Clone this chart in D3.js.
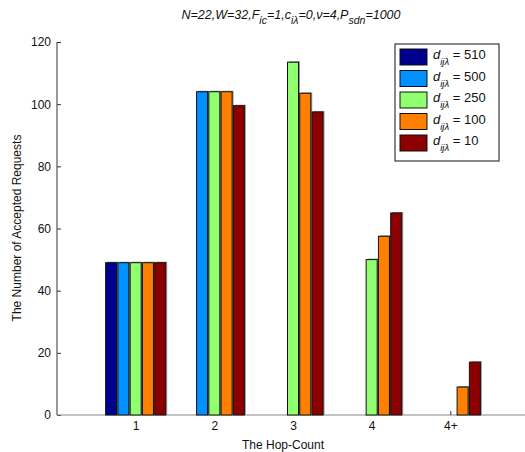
<!DOCTYPE html>
<html>
<head>
<meta charset="utf-8">
<script src="https://cdn.jsdelivr.net/npm/d3@7"></script>
<style>
  body { margin: 0; background: #fff; }
  svg { font-family: "Liberation Sans", Arial, sans-serif; }
</style>
</head>
<body>
<svg width="525" height="452"></svg>
<script>
const categories = ['1', '2', '3', '4', '4+']
const seriesNames = ['510', '500', '250', '100', '10']
const colors = ['#00008f', '#0090ff', '#90ff70', '#ff8000', '#8c0000']
const d510 = [49, 0, 0, 0, 0]
const d500 = [49, 104, 0, 0, 0]
const d250 = [49, 104, 113.5, 50, 0]
const d100 = [49, 104, 103.5, 57.5, 9]
const d10  = [49, 99.5, 97.5, 65, 17]
const yTicks = [0, 20, 40, 60, 80, 100, 120]

const series = [d510, d500, d250, d100, d10]

const svg = d3.select('svg')
const xScale = d3.scaleLinear().domain([0, 6]).range([57, 529])
const yScale = d3.scaleLinear().domain([0, 120]).range([415, 42])
const step = 0.156
const barW = xScale(0.14) - xScale(0)

// axes first, bars sit on top
const yAxis = svg.append('g')
  .attr('transform', `translate(${xScale(0)},0)`)
  .call(d3.axisLeft(yScale).tickValues(yTicks).tickSize(-4).tickPadding(6).tickFormat(d3.format('d')))
const xAxis = svg.append('g')
  .attr('transform', `translate(0,${yScale(0)})`)
  .call(d3.axisBottom(xScale).tickValues([1, 2, 3, 4, 5]).tickSize(-4).tickPadding(6)
    .tickFormat((d, i) => categories[i]))
;[yAxis, xAxis].forEach(a => {
  a.selectAll('path').attr('stroke', '#555').attr('stroke-width', 1.2)
  a.selectAll('line').attr('stroke', '#333')
  a.selectAll('text').attr('font-size', 12).attr('fill', '#111')
    .attr('font-family', '"Liberation Sans", Arial, sans-serif')
})
xAxis.select('path').attr('d', `M${xScale(0)},0H${xScale(6)}`).attr('stroke', '#888')
yAxis.select('path').attr('d', `M0,${yScale(120)}V${yScale(0)}`)

// bars
series.forEach((vals, s) => {
  const g = svg.append('g')
  const data = vals.map((v, i) => ({ x: i + 1 + (s - 2) * step, v }))
  g.selectAll('.shadow')
    .data(data.filter(d => d.v > 0))
    .enter().append('rect')
    .attr('x', d => xScale(d.x) - barW / 2 + 1.5)
    .attr('y', d => yScale(d.v) - 1)
    .attr('width', barW)
    .attr('height', d => yScale(0) - yScale(d.v) + 1)
    .attr('fill', '#9a9a9a')
  g.selectAll('.bar')
    .data(data)
    .enter().append('rect')
    .attr('x', d => xScale(d.x) - barW / 2)
    .attr('y', d => yScale(d.v))
    .attr('width', barW)
    .attr('height', d => yScale(0) - yScale(d.v))
    .attr('fill', colors[s])
    .attr('stroke', '#111')
    .attr('stroke-width', 1)
})

// axis labels
svg.append('text')
  .attr('x', 283).attr('y', 449)
  .attr('text-anchor', 'middle').attr('font-size', 12).attr('fill', '#111')
  .text('The Hop-Count')
svg.append('text')
  .attr('transform', 'translate(21,228) rotate(-90)')
  .attr('text-anchor', 'middle').attr('font-size', 12).attr('fill', '#111')
  .text('The Number of Accepted Requests')

// title
const title = svg.append('text')
  .attr('x', 291).attr('y', 19)
  .attr('text-anchor', 'middle').attr('font-size', 12.5).attr('font-style', 'italic').attr('fill', '#111')
const titleParts = [
  ['N=22,W=32,F', 0], ['ic', 1], ['=1,c', 0], ['iλ', 1], ['=0,ν=4,P', 0], ['sdn', 1], ['=1000', 0]
]
let prevSub = 0
titleParts.forEach(([t, sub]) => {
  title.append('tspan')
    .attr('dy', sub ? 5 : (prevSub ? -5 : 0))
    .attr('font-size', sub ? 10.5 : 12.5)
    .text(t)
  prevSub = sub
})

// legend
const leg = svg.append('g').attr('transform', 'translate(395,44)')
leg.append('rect').attr('width', 104).attr('height', 117)
  .attr('fill', '#fff').attr('stroke', '#111').attr('stroke-width', 1)
seriesNames.forEach((name, i) => {
  const row = leg.append('g').attr('transform', `translate(0,${5 + i * 21.5})`)
  row.append('rect').attr('x', 5).attr('y', 0).attr('width', 27).attr('height', 16)
    .attr('fill', colors[i]).attr('stroke', '#111')
  const t = row.append('text').attr('x', 38).attr('y', 10).attr('font-size', 13).attr('fill', '#111')
  t.append('tspan').attr('font-style', 'italic').text('d')
  t.append('tspan').attr('font-style', 'italic').attr('font-size', 9.5).attr('dy', 6).text('ijλ')
  t.append('tspan').attr('dy', -6).text(' = ' + name)
})
</script>
</body>
</html>
